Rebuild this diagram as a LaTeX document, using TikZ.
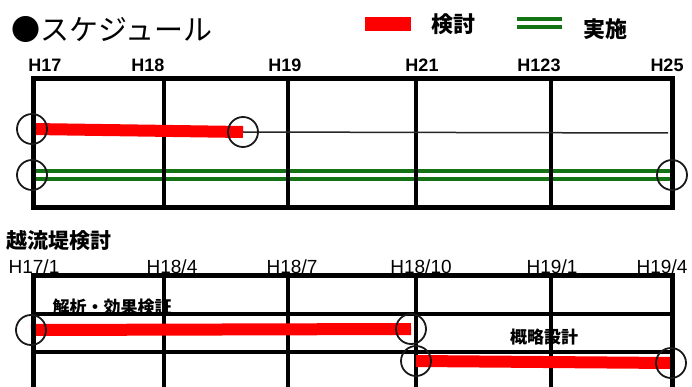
\documentclass[tikz,border=0pt]{standalone}
\usepackage{fontspec}
\setmainfont{Liberation Sans}
\newfontfamily\jp{Noto Sans CJK JP}
\definecolor{barred}{RGB}{255,0,0}
\definecolor{bargreen}{RGB}{20,115,20}
\pgfdeclarelayer{glayer}
\pgfdeclarelayer{grid}
\pgfdeclarelayer{bars}
\pgfdeclarelayer{frame}
\pgfsetlayers{glayer,grid,bars,frame,main}
\begin{document}
\begin{tikzpicture}[x=1pt,y=-1pt,
  outer/.style={line width=5pt},
  inner/.style={line width=3.5pt},
  redbar/.style={barred,line width=12pt},
  greenbar/.style={bargreen,line width=4pt,double=white,double distance=4pt},
  thinline/.style={line width=1.5pt,black!85},
  ring/.style={circle,draw=black!90,line width=1.8pt,minimum size=30pt,inner sep=0pt},
  tickA/.style={font=\fontsize{18}{18}\selectfont\bfseries,anchor=base},
  tickB/.style={font=\fontsize{19}{19}\selectfont,anchor=base},
  jplabel/.style={font=\jp\bfseries\fontsize{17}{17}\selectfont,anchor=center}]
\useasboundingbox (0,0) rectangle (692,387);
% title and legend
\node[font=\jp\fontsize{29}{29}\selectfont,anchor=west] (title) at (8,29) {●スケジュール};
\fill[barred] (365,17) rectangle (411,31);
\node[font=\jp\bfseries\fontsize{22}{22}\selectfont,anchor=center] (lk) at (453,24) {検討};
\draw[greenbar] (517,23.5) -- (562,23.5);
\node[font=\jp\bfseries\fontsize{22}{22}\selectfont,anchor=center] (lj) at (605,29) {実施};
% top table
\node[tickA] (t1) at (45,72) {H17};
\node[tickA] (t2) at (148,72) {H18};
\node[tickA] (t3) at (285,72) {H19};
\node[tickA] (t4) at (422,72) {H21};
\node[tickA] (t5) at (539,72) {H123};
\node[tickA] (t6) at (667,72) {H25};
\begin{pgfonlayer}{grid}
\foreach \x in {164,288,416,551} \draw[inner] (\x,79) -- (\x,207);
\end{pgfonlayer}
\begin{pgfonlayer}{frame}
\draw[outer] (33,79) rectangle (672,207);
\end{pgfonlayer}
\node[ring] (a1) at (32,129) {};
\node[ring] (a2) at (243,132) {};
\coordinate (a3) at (668,133);
\node[ring] (g1) at (32,175) {};
\node[ring] (g2) at (672,175) {};
\begin{pgfonlayer}{bars}
\draw[thinline] (a2.center) -- (a3);
\draw[redbar] (a1.center) -- (a2.center);
\end{pgfonlayer}
\begin{pgfonlayer}{glayer}
\draw[greenbar] (g1.center) -- (g2.center);
\end{pgfonlayer}
% bottom table
\node[font=\jp\bfseries\fontsize{21}{21}\selectfont,anchor=west] (sub) at (3,241) {越流堤検討};
\node[tickB] (b1) at (34,273) {H17/1};
\node[tickB] (b2) at (172,273) {H18/4};
\node[tickB] (b3) at (292,273) {H18/7};
\node[tickB] (b4) at (421,273) {H18/10};
\node[tickB] (b5) at (552,273) {H19/1};
\node[tickB] (b6) at (662,273) {H19/4};
\begin{pgfonlayer}{grid}
\foreach \x in {164,288,416,551} \draw[inner] (\x,275) -- (\x,390);
\draw[inner] (33,314) -- (672,314);
\draw[inner] (33,352) -- (672,352);
\end{pgfonlayer}
\begin{pgfonlayer}{frame}
\draw[outer] (33,392) -- (33,275) -- (672,275) -- (672,392);
\end{pgfonlayer}
\node[ring] (c1) at (31,330) {};
\node[ring] (c2) at (411,329) {};
\node[ring] (c3) at (416,361) {};
\node[ring] (c4) at (671,363) {};
\begin{pgfonlayer}{bars}
\draw[redbar] (c1.center) -- (c2.center);
\draw[redbar] (c3.center) -- (c4.center);
\end{pgfonlayer}
\node[jplabel] (l1) at (112,307) {解析・効果検証};
\node[jplabel] (l2) at (544,337) {概略設計};
\end{tikzpicture}
\end{document}
